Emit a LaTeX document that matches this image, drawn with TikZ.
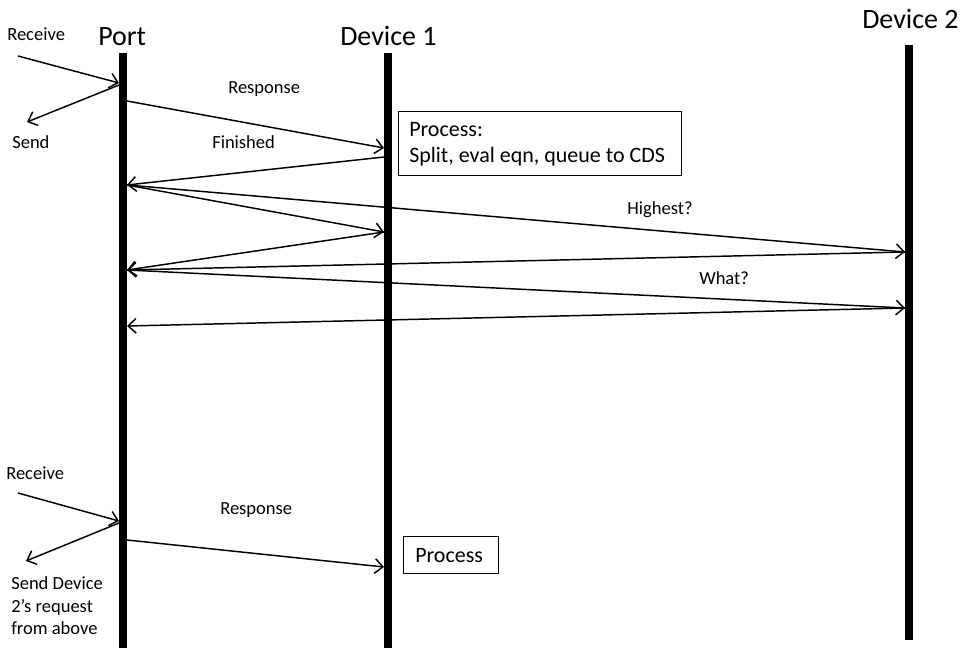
\documentclass[tikz,border=0pt]{standalone}
\usepackage{fontspec}
\setmainfont{Carlito}
\usetikzlibrary{arrows.meta}
\begin{document}
\begin{tikzpicture}[x=0.75pt,y=-0.75pt,
  life/.style={line width=6.4pt},
  msg/.style={line width=1.1pt,-{Straight Barb[length=6pt,width=11pt,line width=1.1pt]}},
  head/.style={inner sep=0pt,anchor=base west,font=\fontsize{21pt}{25pt}\selectfont},
  lbl/.style={inner sep=0pt,anchor=base west,font=\fontsize{13.9pt}{17pt}\selectfont},
  btxt/.style={inner sep=0pt,anchor=base west,font=\fontsize{16.5pt}{20pt}\selectfont},
  procbox/.style={draw,line width=0.9pt,inner sep=0pt,anchor=north west}]
\useasboundingbox (0,0) rectangle (968,656);
% headers
\node[head] (tport) at (98,46) {Port};
\node[head] (tdev1) at (340,46) {Device 1};
\node[head] (tdev2) at (862,29) {Device 2};
% lifelines
\coordinate (pt) at (123,53); \coordinate (pb) at (123,648);
\coordinate (d1t) at (388,53); \coordinate (d1b) at (388,648);
\coordinate (d2t) at (909,45); \coordinate (d2b) at (909,640);
\draw[life] (pt) -- (pb);
\draw[life] (d1t) -- (d1b);
\draw[life] (d2t) -- (d2b);
% coordinates
\coordinate (r1s) at (18,56); \coordinate (r1e) at (119,83);
\coordinate (s1s) at (119,85); \coordinate (s1e) at (27,122);
\coordinate (pA) at (127,101); \coordinate (dA) at (384,148);
\coordinate (dB) at (384,157); \coordinate (pB) at (127,185);
\coordinate (dC) at (384,232);
\coordinate (eC) at (905,252);
\coordinate (pD) at (127,270);
\coordinate (eD) at (905,308);
\coordinate (pE) at (127,326);
\coordinate (r2s) at (18,493); \coordinate (r2e) at (119,521);
\coordinate (s2s) at (119,523); \coordinate (s2e) at (26,561);
\coordinate (pF) at (127,540); \coordinate (dF) at (384,567);
% messages
\draw[msg] (r1s) -- (r1e);
\draw[msg] (s1s) -- (s1e);
\draw[msg] (pA) -- (dA);
\draw[msg] (dB) -- (pB);
\draw[msg] (pB) -- (dC);
\draw[msg] (pB) -- (eC);
\draw[msg] (dC) -- (pD);
\draw[msg] (eC) -- (pD);
\draw[msg] (pD) -- (eD);
\draw[msg] (eD) -- (pE);
\draw[msg] (r2s) -- (r2e);
\draw[msg] (s2s) -- (s2e);
\draw[msg] (pF) -- (dF);
% labels
\node[lbl] (lrec1) at (7,41) {Receive};
\node[lbl] (lsend1) at (12,149) {Send};
\node[lbl] (lresp1) at (228,94) {Response};
\node[lbl] (lfin) at (212,149) {Finished};
\node[lbl] (lhigh) at (627,215) {Highest?};
\node[lbl] (lwhat) at (699,285) {What?};
\node[lbl] (lrec2) at (6,479) {Receive};
\node[lbl] (lresp2) at (220,514) {Response};
\node[lbl] (ls2a) at (11,589) {Send Device};
\node[lbl] (ls2b) at (11,612) {2’s request};
\node[lbl] (ls2c) at (11,634) {from above};
% boxes
\node[procbox,minimum width=212pt,minimum height=48pt] (box1) at (398,111) {};
\node[btxt] (b1a) at (409,137) {Process:};
\node[btxt] (b1b) at (409,163) {Split, eval eqn, queue to CDS};
\node[procbox,minimum width=71pt,minimum height=27.5pt] (box2) at (403,536) {};
\node[btxt] (b2a) at (415,562) {Process};
\end{tikzpicture}
\end{document}
